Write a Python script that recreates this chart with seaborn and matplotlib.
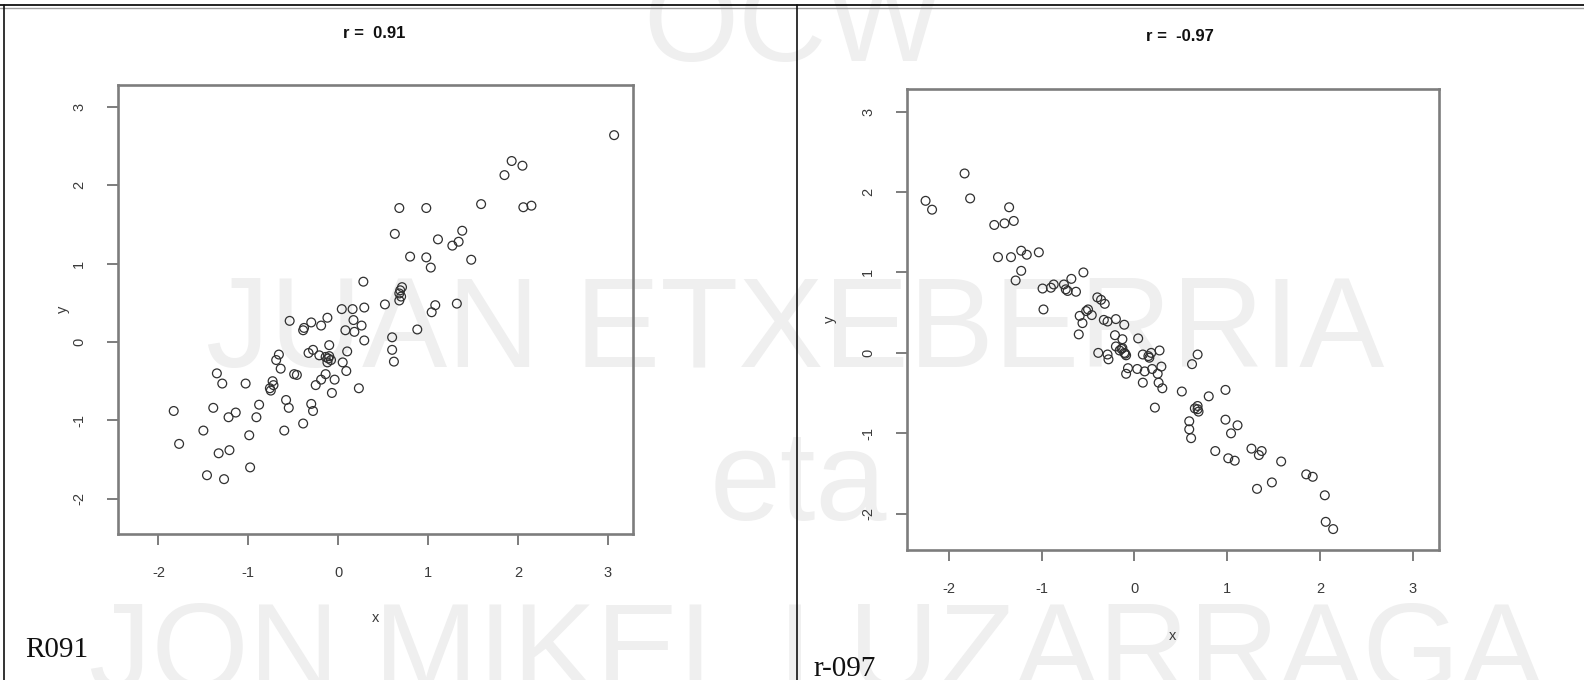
import matplotlib
matplotlib.use("Agg")
import matplotlib.pyplot as plt
from matplotlib.lines import Line2D
import pandas as pd
import seaborn as sns

# Left panel: strong positive association
pos_x = [3.07, 1.93, 2.05, 1.85, 1.59, 2.06, 2.15, 0.68, 0.98, 0.63,
         1.38, 1.11, 1.34, 1.27, 0.80, 0.98, 1.48, 1.03, 0.28, 0.71,
         0.69, 0.68, 0.68, 0.52, 1.08, 1.04, 1.32, 0.04, 0.16, 0.29,
         0.17, 0.26, 0.08, 0.18, 0.88, -0.54, -0.30, -0.19, -0.12, -0.38,
         -0.39, 0.29, 0.60, 0.60, 0.62, -0.10, 0.10, -0.33, -0.28, -0.21,
         -0.14, -0.08, -0.12, 0.05, 0.09, -0.66, -0.69, -0.64, -0.49, -0.46,
         -0.14, -0.19, -0.25, -0.04, 0.23, -0.07, -0.73, -0.76, -0.75, -1.35,
         -1.29, -1.03, -0.88, -0.58, -0.55, -0.30, -0.28, -0.60, -0.39, -0.91,
         -1.14, -1.22, -1.39, -1.83, -1.77, -1.50, -0.99, -1.21, -1.33, -0.98,
         -1.46, -1.27, -0.10, -0.11, 0.70, -0.72]
pos_y = [2.64, 2.31, 2.25, 2.13, 1.76, 1.72, 1.74, 1.71, 1.71, 1.38,
         1.42, 1.31, 1.28, 1.23, 1.09, 1.08, 1.05, 0.95, 0.77, 0.70,
         0.66, 0.62, 0.53, 0.48, 0.47, 0.38, 0.49, 0.42, 0.42, 0.44,
         0.28, 0.21, 0.15, 0.13, 0.16, 0.27, 0.25, 0.21, 0.31, 0.18,
         0.15, 0.02, 0.06, -0.10, -0.25, -0.04, -0.12, -0.14, -0.10, -0.17,
         -0.19, -0.23, -0.26, -0.26, -0.37, -0.16, -0.23, -0.34, -0.41, -0.42,
         -0.41, -0.48, -0.55, -0.48, -0.59, -0.65, -0.50, -0.59, -0.62, -0.40,
         -0.53, -0.53, -0.80, -0.74, -0.84, -0.79, -0.88, -1.13, -1.04, -0.96,
         -0.90, -0.96, -0.84, -0.88, -1.30, -1.13, -1.19, -1.38, -1.42, -1.60,
         -1.70, -1.75, -0.18, -0.21, 0.58, -0.55]

# Right panel: strong negative association
neg_x = [-2.25, -2.18, -1.83, -1.77, -1.35, -1.51, -1.40, -1.30, -1.47, -1.33,
         -1.22, -1.16, -1.03, -1.22, -1.28, -0.55, -0.99, -0.90, -0.87, -0.98,
         -0.76, -0.68, -0.74, -0.72, -0.63, -0.40, -0.36, -0.32, -0.50, -0.46,
         -0.59, -0.56, -0.60, -0.33, -0.29, -0.20, -0.11, -0.21, -0.13, 0.04,
         -0.39, -0.29, -0.28, -0.20, -0.16, -0.11, -0.09, -0.13, 0.09, 0.15,
         0.18, 0.27, -0.07, -0.09, 0.03, 0.11, 0.09, 0.19, 0.29, 0.25,
         0.26, 0.30, 0.22, 0.51, 0.62, 0.68, 0.80, 0.98, 0.68, 0.69,
         0.65, 0.59, 0.59, 0.61, 0.98, 1.04, 1.11, 0.87, 1.01, 1.08,
         1.26, 1.34, 1.37, 1.58, 1.32, 1.48, 1.85, 1.92, 2.05, 2.06,
         2.14, -0.52, -0.14, 0.16, 0.68, -0.10]
neg_y = [1.89, 1.78, 2.23, 1.92, 1.81, 1.59, 1.61, 1.64, 1.19, 1.19,
         1.27, 1.22, 1.25, 1.02, 0.90, 1.00, 0.80, 0.81, 0.85, 0.54,
         0.85, 0.92, 0.79, 0.77, 0.76, 0.69, 0.66, 0.61, 0.54, 0.47,
         0.46, 0.37, 0.23, 0.41, 0.39, 0.42, 0.35, 0.22, 0.17, 0.18,
         0.00, -0.02, -0.08, 0.08, 0.03, 0.00, -0.03, 0.06, -0.02, -0.04,
         0.00, 0.03, -0.19, -0.26, -0.20, -0.23, -0.37, -0.20, -0.17, -0.26,
         -0.37, -0.44, -0.68, -0.48, -0.14, -0.02, -0.54, -0.46, -0.66, -0.73,
         -0.69, -0.85, -0.95, -1.06, -0.83, -1.00, -0.90, -1.22, -1.31, -1.34,
         -1.19, -1.27, -1.22, -1.35, -1.69, -1.61, -1.51, -1.54, -1.77, -2.10,
         -2.19, 0.52, 0.05, -0.06, -0.70, -0.01]

titles = ["r =  0.91", "r =  -0.97"]
panel_codes = ["R091", "r-097"]
tick_values = [-2, -1, 0, 1, 2, 3]
tick_labels = ["-2", "-1", "0", "1", "2", "3"]
axis_lims = (-2.45, 3.28)
watermark = ["OCW", "JUAN ETXEBERRIA", "eta", "JON MIKEL LUZARRAGA"]

sns.set_theme(style="white")
plt.rcParams["font.family"] = ["Liberation Sans", "DejaVu Sans"]

W, H = 1584, 680
fig = plt.figure(figsize=(W / 100, H / 100), dpi=100)
fig.patch.set_facecolor("white")


def fx(px):
    return px / W


def fy(py):
    return 1 - py / H


# light background lettering
wm_col = "#efefef"
wm_specs = [(793, 61, 88), (795, 367, 92), (798, 520, 92), (816, 690, 90)]
for text, (cx, base, size) in zip(watermark, wm_specs):
    fig.text(fx(cx), fy(base), text, ha="center", va="baseline",
             fontsize=size, color=wm_col, zorder=-10,
             family="Liberation Sans")

# page frame: double rule on top, left edge and the divider between panels
frame = [
    ([0, W], [5, 5], "#111111", 1.3),
    ([0, W], [8, 8], "#a0a0a0", 1.0),
    ([3.5, 3.5], [5, H], "#111111", 1.2),
    ([797, 797], [5, H], "#111111", 1.2),
]
for xs, ys, col, lw in frame:
    fig.add_artist(Line2D([fx(v) for v in xs], [fy(v) for v in ys],
                          color=col, lw=lw, transform=fig.transFigure,
                          zorder=5))

# panel boxes in pixels: left, top, right, bottom
boxes = [(118, 85, 633, 534), (907, 89, 1439, 550)]
series = [(pos_x, pos_y), (neg_x, neg_y)]
title_pos = [(374, 42), (1180, 45)]
xlab_pos = [618, 636]
ylab_pos = [63, 830]
code_pos = [(25, 657), (813, 676)]

gray = "#7d7d7d"
for i, ((l, t, r, b), (xs, ys)) in enumerate(zip(boxes, series)):
    ax = fig.add_axes([fx(l), fy(b), (r - l) / W, (b - t) / H])
    ax.set_facecolor("none")
    df = pd.DataFrame({"x": xs, "y": ys})
    sns.scatterplot(data=df, x="x", y="y", ax=ax, s=40,
                    facecolor="none", edgecolor="#303030",
                    linewidth=0.9, legend=False, zorder=3)
    ax.set_xlim(*axis_lims)
    ax.set_ylim(*axis_lims)
    ax.set_xticks(tick_values)
    ax.set_xticklabels(tick_labels)
    ax.set_yticks(tick_values)
    ax.set_yticklabels(tick_labels, rotation=90, va="center")
    ax.tick_params(axis="both", which="major", direction="out",
                   length=8, width=1.4, color=gray, pad=15,
                   labelsize=10.5, labelcolor="#3a3a3a",
                   bottom=True, left=True)
    for sp in ax.spines.values():
        sp.set_visible(True)
        sp.set_color(gray)
        sp.set_linewidth(1.9)
    ax.grid(False)

    w_px, h_px = r - l, b - t
    ax.set_xlabel("x", fontsize=10.5, color="#3a3a3a")
    ax.xaxis.set_label_coords(0.5, (b - xlab_pos[i]) / h_px)
    ax.xaxis.label.set_va("center")
    ax.set_ylabel("y", fontsize=10.5, color="#3a3a3a")
    ax.yaxis.set_label_coords((ylab_pos[i] - l) / w_px, 0.5)
    ax.yaxis.label.set_va("center")

    tx, ty = title_pos[i]
    ax.set_title(titles[i], fontsize=12, fontweight="bold", color="#111111",
                 x=(tx - l) / w_px, y=1 + (t - ty) / h_px, va="center")

    cx, cy = code_pos[i]
    fig.text(fx(cx), fy(cy), panel_codes[i], ha="left", va="baseline",
             fontsize=21, family="Liberation Serif", color="#111111")

fig.savefig("out.png", dpi=100, facecolor="white")
